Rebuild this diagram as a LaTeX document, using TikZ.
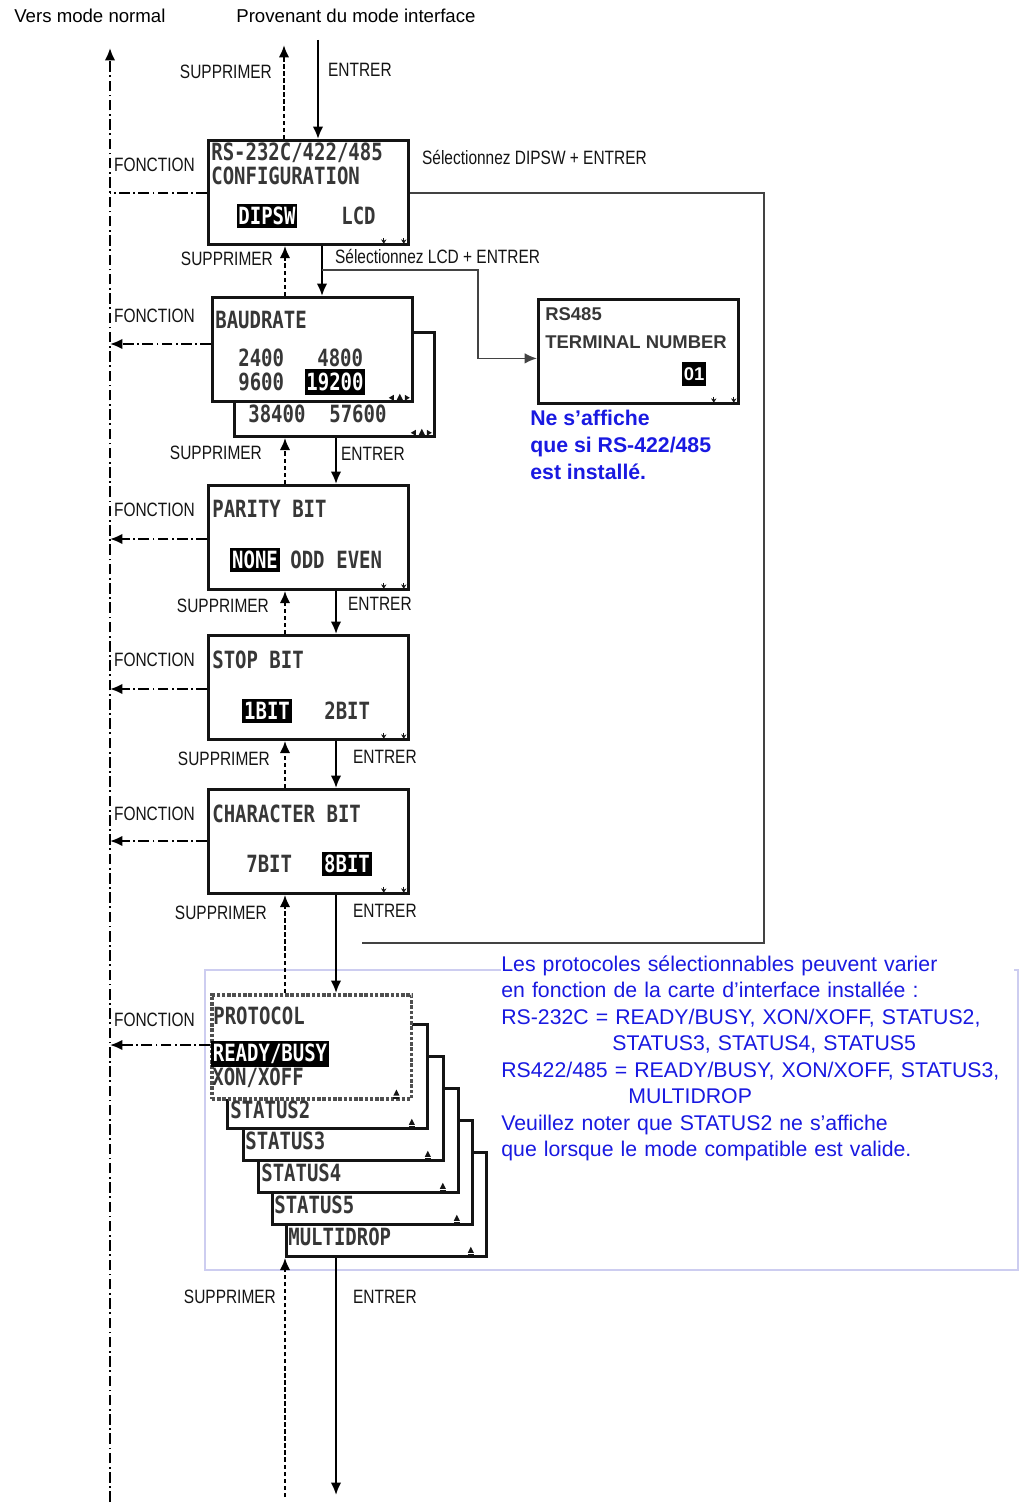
\documentclass[tikz,border=0pt]{standalone}
\usepackage{fontspec}
\setmainfont{Liberation Sans}
\newfontfamily\narrowfont[FakeStretch=0.8]{Liberation Sans}
\newfontfamily\lcdfont[FakeStretch=0.8]{DejaVu Sans Mono}
\usetikzlibrary{arrows.meta,positioning}
\definecolor{ink}{RGB}{20,20,20}
\definecolor{lcdgray}{RGB}{55,55,55}
\definecolor{noteblue}{RGB}{25,25,225}
\definecolor{framelav}{RGB}{205,205,240}

\tikzset{
  lcdbox/.style={draw=ink, line width=1.6pt, fill=white, inner sep=0pt,
    minimum width=4cm, minimum height=2.08cm, anchor=north west},
  lcdtext/.style={font=\lcdfont\bfseries\fontsize{13.5}{14}\selectfont,
    text=lcdgray, inner sep=0pt, anchor=west},
  lcdsel/.style={lcdtext, fill=black, text=white, inner xsep=1pt,
    inner ysep=2pt, anchor=center},
  keylabel/.style={font=\narrowfont\fontsize{11}{13}\selectfont, text=ink,
    inner sep=1pt},
  fnlabel/.style={keylabel, fill=white, anchor=west},
  fnline/.style={line width=1.2pt, dash pattern=on 6pt off 2pt on 1pt off 2pt},
  fnarrow/.style={fnline, -{Latex[length=7pt,width=6pt]}},
  supline/.style={line width=1.6pt, dash pattern=on 2.5pt off 1.5pt,
    -{Latex[length=7pt,width=6pt]}},
  entline/.style={line width=1.2pt, -{Latex[length=7pt,width=6pt]}},
  sideline/.style={line width=1pt, draw=ink!80},
  toplabel/.style={font=\fontsize{10.6}{12}\selectfont, inner sep=0pt, anchor=west},
  termtext/.style={font=\bfseries\fontsize{10.5}{12}\selectfont, text=lcdgray,
    inner sep=0pt, anchor=west},
}

\newcommand{\lcdticks}[1]{%
  \draw[ink, line width=0.8pt, -{Stealth[length=2.5pt,width=3pt]}]
    ([xshift=-0.52cm,yshift=0.16cm]#1.south east) -- ++(0,6);
  \draw[ink, line width=0.8pt, -{Stealth[length=2.5pt,width=3pt]}]
    ([xshift=-0.12cm,yshift=0.16cm]#1.south east) -- ++(0,6);}
\newcommand{\ejectmark}[1]{%
  \fill[ink] ([xshift=-0.4cm,yshift=0.1cm]#1.south east) -- ++(6,0)
    -- ++(-3,-6) -- cycle;
  \fill[ink] ([xshift=-0.4cm,yshift=0.04cm]#1.south east) rectangle ++(6,-2);}
\newcommand{\scrollmark}[1]{%
  \fill[ink] ([xshift=-0.5cm,yshift=0.1cm]#1.south east) -- ++(5,-3)
    -- ++(0,6) -- cycle;
  \fill[ink] ([xshift=-0.34cm,yshift=0.06cm]#1.south east) -- ++(6,0)
    -- ++(-3,-6) -- cycle;
  \fill[ink] ([xshift=-0.08cm,yshift=0.1cm]#1.south east) -- ++(-5,-3)
    -- ++(0,6) -- cycle;}

\begin{document}
\begin{tikzpicture}[x=0.02cm,y=-0.02cm]
  \useasboundingbox (0,0) rectangle (1019,1506);

  % columns of the key arrows
  \coordinate (sx) at (285,0);
  \coordinate (ex) at (336,0);
  \coordinate (ex1) at (322,0);

  % frame round the protocol list
  \draw[framelav, line width=0.7pt] (205,970) rectangle (1018,1270);

  \node[toplabel] (toNormalLbl) at (14,16) {Vers mode normal};
  \node[toplabel] (fromIfLbl) at (236,16) {Provenant du mode interface};

  % screens
  \node[lcdbox] (cfg) at (207,139) {};
  \node[lcdbox] (baudb) at (233,331) {};
  \node[lcdbox] (baud) at (211,296) {};
  \node[lcdbox] (parity) at (207,484) {};
  \node[lcdbox] (stopb) at (207,634) {};
  \node[lcdbox] (charb) at (207,788) {};
  \node[lcdbox] (term) at (537,298) {};

  \node[lcdbox] (mdrop) at (285,1151) {};
  \node[lcdbox] (st5) at (271,1119) {};
  \node[lcdbox] (st4) at (257,1087) {};
  \node[lcdbox] (st3) at (242,1055) {};
  \node[lcdbox] (st2) at (226,1023) {};
  \node[lcdbox, draw=ink!75, line width=2pt, densely dotted] (proto)
    at (210,993) {};

  % screen texts
  \node[lcdtext] (cfgA) at (211,153) {RS-232C/422/485};
  \node[lcdtext] (cfgB) at (211,176) {CONFIGURATION};
  \node[lcdsel] (dipsw) at (267,216) {DIPSW};
  \node[lcdtext] (lcd) at (341,216) {LCD};
  \lcdticks{cfg}

  \node[lcdtext] (baudA) at (215,320) {BAUDRATE};
  \node[lcdtext] (b2400) at (238,358) {2400};
  \node[lcdtext] (b4800) at (317,358) {4800};
  \node[lcdtext] (b9600) at (238,382) {9600};
  \node[lcdsel] (b19200) at (335,382) {19200};
  \node[lcdtext] (b38400) at (248,414) {38400};
  \node[lcdtext] (b57600) at (329,414) {57600};
  \scrollmark{baud}
  \scrollmark{baudb}

  \node[lcdtext] (parA) at (212,509) {PARITY BIT};
  \node[lcdsel] (pNone) at (255,560) {NONE};
  \node[lcdtext] (pOdd) at (290,560) {ODD};
  \node[lcdtext] (pEven) at (336,560) {EVEN};
  \lcdticks{parity}

  \node[lcdtext] (stopA) at (212,660) {STOP BIT};
  \node[lcdsel] (s1) at (267,711) {1BIT};
  \node[lcdtext] (s2) at (324,711) {2BIT};
  \lcdticks{stopb}

  \node[lcdtext] (charA) at (212,814) {CHARACTER BIT};
  \node[lcdtext] (c7) at (246,864) {7BIT};
  \node[lcdsel] (c8) at (347,864) {8BIT};
  \lcdticks{charb}

  \node[lcdtext] (protoA) at (213,1016) {PROTOCOL};
  \node[lcdsel] (rdy) at (270,1054) {READY/BUSY};
  \node[lcdtext] (xon) at (212,1078) {XON/XOFF};
  \node[lcdtext] (st2A) at (230,1110) {STATUS2};
  \node[lcdtext] (st3A) at (245,1141) {STATUS3};
  \node[lcdtext] (st4A) at (261,1173) {STATUS4};
  \node[lcdtext] (st5A) at (274,1205) {STATUS5};
  \node[lcdtext] (mdropA) at (288,1237) {MULTIDROP};
  \ejectmark{proto}
  \ejectmark{st2}
  \ejectmark{st3}
  \ejectmark{st4}
  \ejectmark{st5}
  \ejectmark{mdrop}

  \node[termtext] (termA) at (545,314) {RS485};
  \node[termtext] (termB) at (545,342) {TERMINAL NUMBER};
  \node[lcdsel, font=\bfseries\fontsize{10.5}{12}\selectfont,
    inner ysep=3pt] (termNo) at (694,374) {01};
  \lcdticks{term}

  \node[font=\bfseries\fontsize{12.1}{15.4}\selectfont, text=noteblue,
    align=left, inner sep=0pt, anchor=north west] (onlyNote)
    at ([xshift=-0.14cm,yshift=-0.1cm]term.south west)
    {Ne s’affiche\\que si RS-422/485\\est installé.};

  \node[font=\fontsize{12.1}{15.1}\selectfont, text=noteblue, fill=white,
    align=left, text width=10.25cm, inner xsep=0pt, inner ysep=3pt,
    anchor=north west] (protoNote) at (501,950)
    {Les protocoles sélectionnables peuvent varier\\
     en fonction de la carte d’interface installée :\\
     RS-232C = READY/BUSY, XON/XOFF, STATUS2,\\
     \hspace*{2.22cm}STATUS3, STATUS4, STATUS5\\
     RS422/485 = READY/BUSY, XON/XOFF, STATUS3,\\
     \hspace*{2.54cm}MULTIDROP\\
     Veuillez noter que STATUS2 ne s’affiche\\
     que lorsque le mode compatible est valide.};

  % FONCTION line back to normal mode
  \coordinate (toNormal) at (110,48);
  \coordinate (mainEnd) at (110,1502);
  \draw[fnarrow] (mainEnd) -- (toNormal);

  \coordinate (fnCfg) at (110,193);
  \coordinate (fnBaud) at (110,344);
  \coordinate (fnPar) at (110,539);
  \coordinate (fnStop) at (110,689);
  \coordinate (fnChar) at (110,841);
  \coordinate (fnProto) at (110,1045);
  \draw[fnline] (fnCfg -| cfg.west) -- (fnCfg);
  \draw[fnarrow] (fnBaud -| baud.west) -- (fnBaud);
  \draw[fnarrow] (fnPar -| parity.west) -- (fnPar);
  \draw[fnarrow] (fnStop -| stopb.west) -- (fnStop);
  \draw[fnarrow] (fnChar -| charb.west) -- (fnChar);
  \draw[fnarrow] (fnProto -| proto.west) -- (fnProto);

  \node[fnlabel] (fnCfgLbl) at (112,165) {FONCTION};
  \node[fnlabel] (fnBaudLbl) at (112,316) {FONCTION};
  \node[fnlabel] (fnParLbl) at (112,510) {FONCTION};
  \node[fnlabel] (fnStopLbl) at (112,660) {FONCTION};
  \node[fnlabel] (fnCharLbl) at (112,814) {FONCTION};
  \node[fnlabel] (fnProtoLbl) at (112,1020) {FONCTION};

  % ENTRER / SUPPRIMER
  \coordinate (fromIf) at (318,40);
  \coordinate (toIf) at (284,45);
  \draw[entline] (fromIf) -- (cfg.north -| fromIf);
  \draw[supline] (cfg.north -| toIf) -- (toIf);
  \node[keylabel, anchor=east] (sup0) at (274,72) {SUPPRIMER};
  \node[keylabel, anchor=west] (ent0) at (326,70) {ENTRER};

  \draw[entline] (cfg.south -| ex1) -- (baud.north -| ex1);
  \draw[supline] (baud.north -| sx) -- (cfg.south -| sx);
  \node[keylabel, anchor=east] (sup1) at (275,259) {SUPPRIMER};

  \draw[entline] (baudb.south -| ex) -- (parity.north -| ex);
  \draw[supline] (parity.north -| sx) -- (baudb.south -| sx);
  \node[keylabel, anchor=east] (sup2) at (264,453) {SUPPRIMER};
  \node[keylabel, anchor=west] (ent2) at (339,454) {ENTRER};

  \draw[entline] (parity.south -| ex) -- (stopb.north -| ex);
  \draw[supline] (stopb.north -| sx) -- (parity.south -| sx);
  \node[keylabel, anchor=east] (sup3) at (271,606) {SUPPRIMER};
  \node[keylabel, anchor=west] (ent3) at (346,604) {ENTRER};

  \draw[entline] (stopb.south -| ex) -- (charb.north -| ex);
  \draw[supline] (charb.north -| sx) -- (stopb.south -| sx);
  \node[keylabel, anchor=east] (sup4) at (272,759) {SUPPRIMER};
  \node[keylabel, anchor=west] (ent4) at (351,757) {ENTRER};

  \draw[entline] (charb.south -| ex) -- (proto.north -| ex);
  \draw[supline] (proto.north -| sx) -- (charb.south -| sx);
  \node[keylabel, anchor=east] (sup5) at (269,913) {SUPPRIMER};
  \node[keylabel, anchor=west] (ent5) at (351,911) {ENTRER};

  \coordinate (outEnt) at (336,1495);
  \coordinate (outSup) at (285,1497);
  \draw[entline] (mdrop.south -| ex) -- (outEnt);
  \draw[supline] (outSup) -- (mdrop.south -| sx);
  \node[keylabel, anchor=east] (sup6) at (278,1297) {SUPPRIMER};
  \node[keylabel, anchor=west] (ent6) at (351,1297) {ENTRER};

  % DIPSW and LCD branches
  \coordinate (dipR) at (764,193);
  \coordinate (dipEnd) at (362,943);
  \draw[sideline] (dipR -| cfg.east) -- (dipR) |- (dipEnd);
  \node[keylabel, anchor=west] (dipLbl) at (420,157) {Sélectionnez DIPSW + ENTRER};

  \coordinate (lcdK) at (478,270);
  \draw[sideline, -{Latex[length=7pt,width=6pt]}] (lcdK -| ex1) -- (lcdK)
    |- ([yshift=-0.14cm]term.west);
  \node[keylabel, anchor=west] (lcdLbl) at (333,256) {Sélectionnez LCD + ENTRER};
\end{tikzpicture}
\end{document}
